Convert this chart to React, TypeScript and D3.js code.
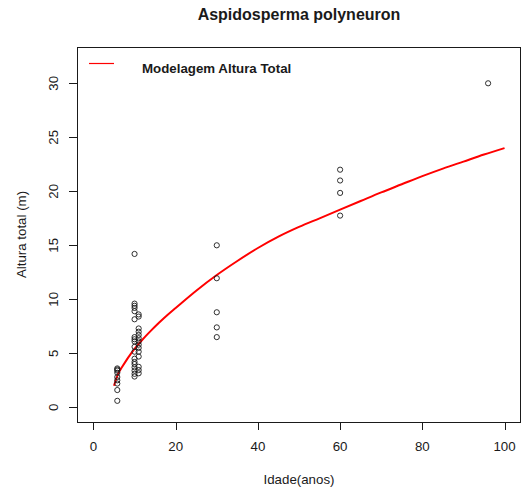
import React from "react";
import * as d3 from "d3";

const W = 524;
const H = 492;

const title = "Aspidosperma polyneuron";
const xLabel = "Idade(anos)";
const yLabel = "Altura total (m)";
const legendLabel = "Modelagem Altura Total";

const xTicks = [0, 20, 40, 60, 80, 100];
const yTicks = [0, 5, 10, 15, 20, 25, 30];

// observed points: age (years) and total height (m)
const age6 = [3.6, 3.5, 3.4, 3.2, 2.8, 2.5, 2.2, 1.6, 0.6];
const age10 = [14.2, 9.6, 9.4, 9.2, 8.9, 8.15, 6.5, 6.3, 6.1, 5.6, 5.15, 4.5, 4.2, 4.0, 3.7, 3.4, 3.1, 2.85];
const age11 = [8.6, 8.4, 7.3, 7.0, 6.7, 6.4, 6.1, 5.8, 5.5, 5.15, 4.7, 3.75, 3.45, 3.15];
const age30 = [15.0, 11.95, 8.8, 7.4, 6.5];
const age60 = [22.0, 21.0, 19.85, 17.75];
const age96 = [30.0];

// fitted model curve
const curveAges = [5, 6, 7, 8, 9, 10, 12, 14, 16, 18, 20, 25, 30, 35, 40, 45, 50, 55, 60, 65, 70, 75, 80, 85, 90, 95, 100];
const curveHeights = [2.0, 3.1, 3.75, 4.35, 4.9, 5.4, 6.3, 7.1, 7.85, 8.55, 9.2, 10.8, 12.25, 13.55, 14.75, 15.8, 16.7, 17.5, 18.3, 19.1, 19.9, 20.65, 21.4, 22.1, 22.75, 23.4, 24.0];

const groups: [number, number[]][] = [
  [5.8, age6],
  [10, age10],
  [11, age11],
  [30, age30],
  [60, age60],
  [96, age96],
];

export default function App() {
  const plotL = 77, plotR = 521, plotT = 47, plotB = 422;
  const x = d3.scaleLinear().domain([-4, 104]).range([plotL, plotR]);
  const y = d3.scaleLinear().domain([-1.36, 33.36]).range([plotB, plotT]);

  const points = groups.flatMap(([a, hs]) => hs.map((h) => ({ a, h })));
  const curve = curveAges.map((a, i) => [a, curveHeights[i]] as [number, number]);
  const line = d3
    .line<[number, number]>()
    .x((d) => x(d[0]))
    .y((d) => y(d[1]))
    .curve(d3.curveMonotoneX);

  const font = "'Liberation Sans', Arial, sans-serif";
  const ink = "#1a1a1a";

  return (
    <svg
      width={W}
      height={H}
      style={{ position: "absolute", left: 0, top: 0, background: "#fff" }}
      fontFamily={font}
    >
      <rect x={0} y={0} width={W} height={H} fill="#fff" />
      <text x={(plotL + plotR) / 2} y={20} textAnchor="middle" fontSize={16} fontWeight="bold" fill={ink}>
        {title}
      </text>

      {/* curve */}
      <path d={line(curve) ?? ""} fill="none" stroke="#ff0000" strokeWidth={2} />

      {/* points */}
      {points.map((p, i) => (
        <circle key={i} cx={x(p.a)} cy={y(p.h)} r={2.6} fill="none" stroke={ink} strokeWidth={0.9} />
      ))}

      {/* box */}
      <rect x={plotL + 0.5} y={plotT + 0.5} width={plotR - plotL - 1} height={plotB - plotT} fill="none" stroke={ink} strokeWidth={1} />

      {/* x axis */}
      {xTicks.map((t) => (
        <g key={"x" + t}>
          <line x1={Math.round(x(t)) + 0.5} x2={Math.round(x(t)) + 0.5} y1={plotB + 0.5} y2={plotB + 8} stroke={ink} />
          <text x={x(t)} y={451} textAnchor="middle" fontSize={13.3} fill={ink}>
            {t}
          </text>
        </g>
      ))}
      <text x={(plotL + plotR) / 2} y={484} textAnchor="middle" fontSize={13.3} fill={ink}>
        {xLabel}
      </text>

      {/* y axis */}
      {yTicks.map((t) => (
        <g key={"y" + t}>
          <line x1={plotL - 8} x2={plotL + 0.5} y1={Math.round(y(t)) + 0.5} y2={Math.round(y(t)) + 0.5} stroke={ink} />
          <text
            transform={`translate(57.5,${y(t)}) rotate(-90)`}
            textAnchor="middle"
            fontSize={13.3}
            fill={ink}
          >
            {t}
          </text>
        </g>
      ))}
      <text
        transform={`translate(25.5,${(plotT + plotB) / 2}) rotate(-90)`}
        textAnchor="middle"
        fontSize={13.3}
        fill={ink}
      >
        {yLabel}
      </text>

      {/* legend */}
      <line x1={89} x2={114} y1={63.5} y2={63.5} stroke="#ff0000" strokeWidth={1.2} />
      <text x={142} y={73} fontSize={13.3} fontWeight="bold" fill={ink}>
        {legendLabel}
      </text>
    </svg>
  );
}
